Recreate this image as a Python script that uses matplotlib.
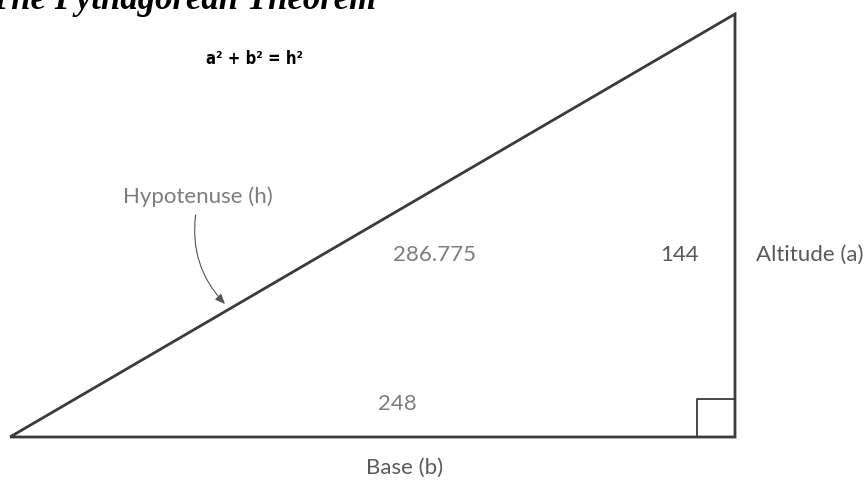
import matplotlib
matplotlib.use("Agg")
import matplotlib.pyplot as plt
from matplotlib.patches import FancyArrowPatch

# cotes du triangle
base = 248.0
altitude = 144.0
hypotenuse = 286.775

titre = "The Pythagorean Theorem"
formule = "a\u00b2 + b\u00b2 = h\u00b2"
label_hyp = "Hypotenuse (h)"
label_alt = "Altitude (a)"
label_base = "Base (b)"

# sommets : origine en bas a gauche
sommets_x = [0.0, base, base, 0.0]
sommets_y = [0.0, 0.0, altitude, 0.0]

cote_carre = 13.0

# echelles pixel par unite
W, H = 864, 480
sx = 725.0 / base
sy = 423.0 / altitude
x0_px, y0_px = 10.0, 437.0

fig = plt.figure(figsize=(W / 100, H / 100), dpi=100)
ax = fig.add_axes([0, 0, 1, 1])
ax.set_xlim(-x0_px / sx, (W - x0_px) / sx)
ax.set_ylim(-(H - y0_px) / sy, y0_px / sy)
ax.axis("off")


def px(x, y):
    # pixel image -> unites du dessin
    return (x - x0_px) / sx, (y0_px - y) / sy


trait = "#3a3a3a"
gris = "#7d7d7d"
gris_fonce = "#5a5a5a"

ax.plot(sommets_x, sommets_y, color=trait, linewidth=2.0,
        solid_joinstyle="miter", solid_capstyle="butt")

# carre de l'angle droit
ax.plot([base - cote_carre, base - cote_carre, base],
        [0.0, cote_carre * sx / sy, cote_carre * sx / sy],
        color=trait, linewidth=1.3)

# titre (coupe en haut comme sur l'original)
tx, ty = px(376, 9)
ax.text(tx, ty, titre, family="Liberation Serif", fontsize=25,
        fontweight="bold", style="italic", ha="right", va="baseline")

fx, fy = px(254, 59)
ax.text(fx, fy, formule, family="DejaVu Sans", fontstretch="condensed",
        fontsize=12, fontweight="bold", ha="center", va="center")

police = dict(family=["Lato", "DejaVu Sans"], fontsize=16)

hx, hy = px(198, 197)
ax.text(hx, hy, label_hyp, ha="center", va="center", color=gris, **police)

vx, vy = px(434, 255)
ax.text(vx, vy, "%g" % hypotenuse, ha="center", va="center", color=gris, **police)

ax_, ay_ = px(680, 255)
ax.text(ax_, ay_, "%d" % altitude, ha="center", va="center", color=gris_fonce, **police)

lx, ly = px(756, 255)
ax.text(lx, ly, label_alt, ha="left", va="center", color=gris_fonce, **police)

bx, by = px(397, 404)
ax.text(bx, by, "%d" % base, ha="center", va="center", color=gris, **police)

bbx, bby = px(405, 468)
ax.text(bbx, bby, label_base, ha="center", va="center", color=gris_fonce, **police)

# fleche courbe vers l'hypotenuse
fleche = FancyArrowPatch(px(196, 212), px(227, 306),
                         connectionstyle="arc3,rad=0.25",
                         arrowstyle="-|>,head_length=6,head_width=2.5",
                         color="#555555", linewidth=0.8)
ax.add_patch(fleche)

fig.savefig("out.png", dpi=100)
